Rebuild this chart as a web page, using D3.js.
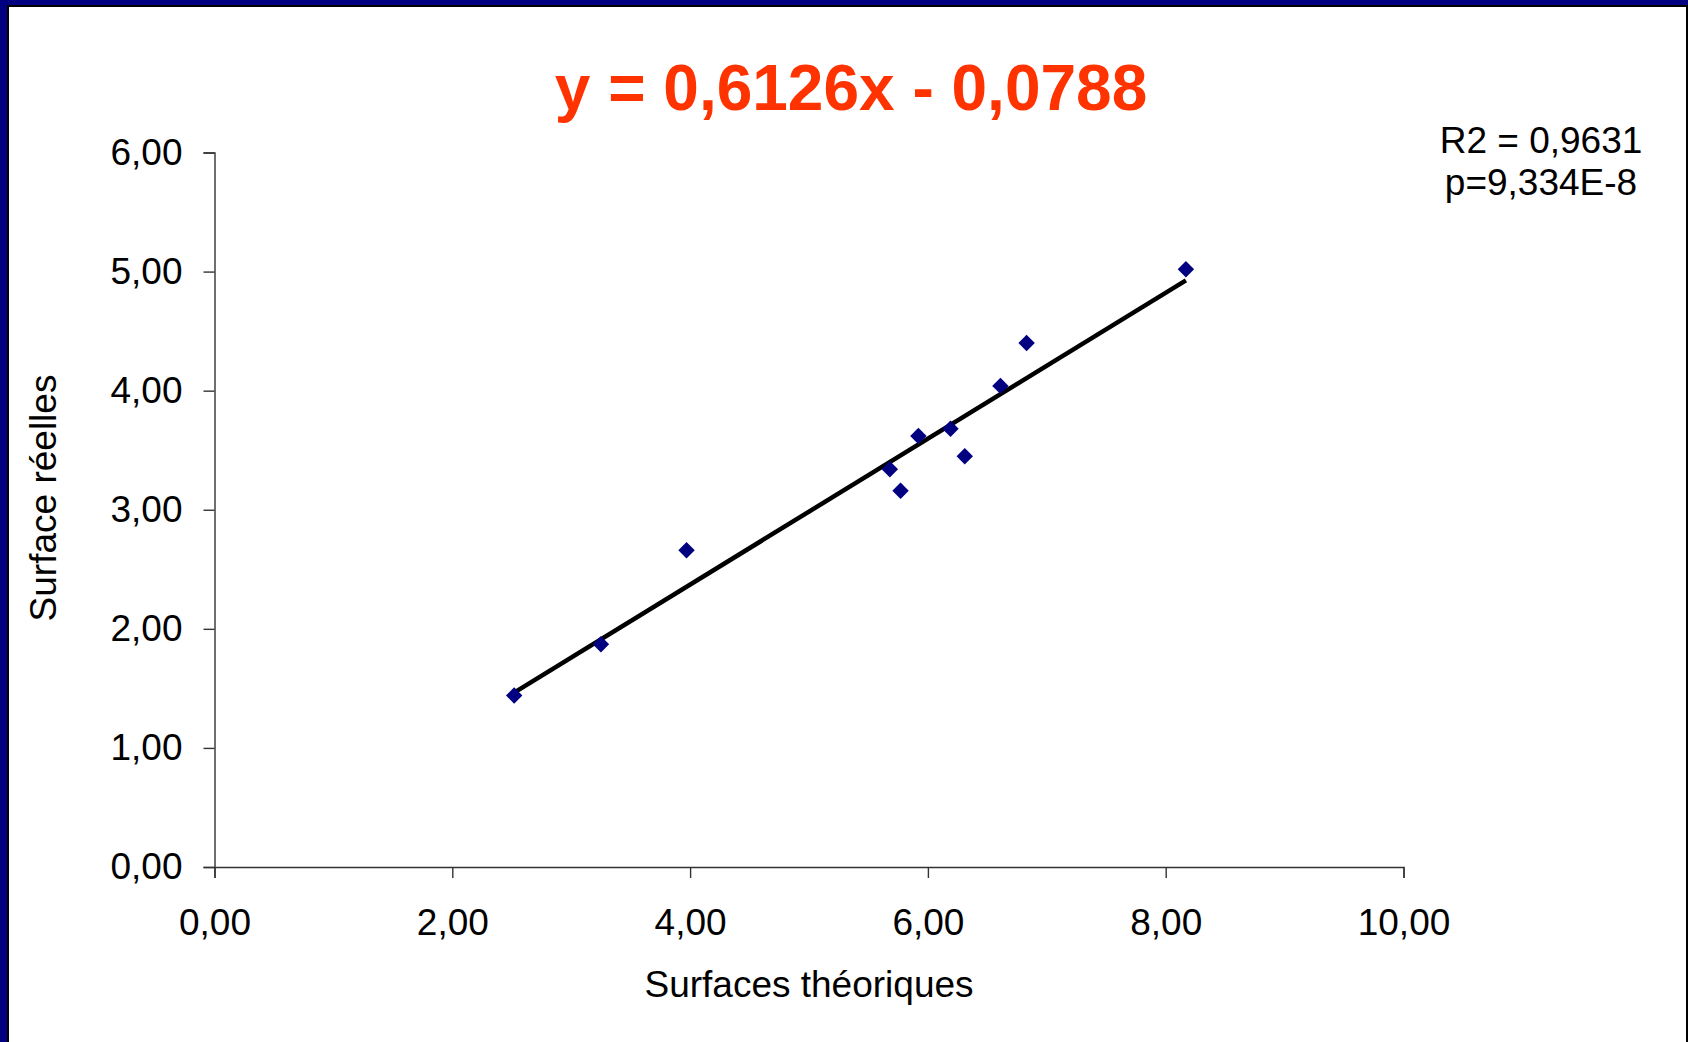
<!DOCTYPE html>
<html>
<head>
<meta charset="utf-8">
<script src="https://cdn.jsdelivr.net/npm/d3@7"></script>
<style>
  html, body { margin: 0; padding: 0; background: #000080; }
  svg { display: block; }
  text { font-family: "Liberation Sans", Arial, Helvetica, sans-serif; }
</style>
</head>
<body>
<svg id="chart" width="1688" height="1042"></svg>
<script>
// ---- data ----
const xValues = [2.52, 3.25, 3.97, 5.68, 5.77, 5.92, 6.19, 6.31, 6.61, 6.83, 8.17];
const yValues = [1.44, 1.87, 2.66, 3.34, 3.16, 3.62, 3.68, 3.45, 4.04, 4.40, 5.02];
const xTicks = [0, 2, 4, 6, 8, 10];
const yTicks = [0, 1, 2, 3, 4, 5, 6];
const slope = 0.6126;
const intercept = -0.0788;
const titleText = "y = 0,6126x - 0,0788";
const statsLines = ["R2 = 0,9631", "p=9,334E-8"];
const xTitle = "Surfaces théoriques";
const yTitle = "Surface réelles";

const svg = d3.select("#chart");
const W = 1688, H = 1042;

// frame
svg.append("rect").attr("x", 0).attr("y", 0).attr("width", W).attr("height", H).attr("fill", "#000080");
svg.append("rect").attr("x", 8).attr("y", 6).attr("width", 1679).attr("height", 1100)
  .attr("fill", "#ffffff").attr("stroke", "#000000").attr("stroke-width", 2);

const x = d3.scaleLinear().domain([0, 10]).range([214.5, 1403.5]);
const y = d3.scaleLinear().domain([0, 6]).range([867, 152.5]);

const fr = d3.formatLocale({decimal: ",", thousands: " ", grouping: [3], currency: ["", " €"]});
const fmt = fr.format(".2f");

// axes
const gx = svg.append("g").attr("transform", `translate(0,${y(0)})`)
  .call(d3.axisBottom(x).tickValues(xTicks).tickFormat(fmt).tickSize(11).tickPadding(31));
const gy = svg.append("g").attr("transform", `translate(${x(0)},0)`)
  .call(d3.axisLeft(y).tickValues(yTicks).tickFormat(fmt).tickSize(11).tickPadding(21));
[gx, gy].forEach(g => {
  g.selectAll("path.domain").attr("stroke", "#333").attr("stroke-width", 1.4);
  g.selectAll(".tick line").attr("stroke", "#333").attr("stroke-width", 1.4);
  g.selectAll(".tick text").attr("font-size", 37).attr("fill", "#000")
    .attr("font-family", "'Liberation Sans', Arial, sans-serif");
});

// trend line
const xMin = d3.min(xValues), xMax = d3.max(xValues);
svg.append("line")
  .attr("x1", x(xMin)).attr("y1", y(slope * xMin + intercept))
  .attr("x2", x(xMax)).attr("y2", y(slope * xMax + intercept))
  .attr("stroke", "#000").attr("stroke-width", 4.5);

// points
const pts = xValues.map((v, i) => [v, yValues[i]]);
svg.append("g").selectAll("path").data(pts).enter().append("path")
  .attr("d", d3.symbol().type(d3.symbolSquare).size(135))
  .attr("transform", d => `translate(${x(d[0])},${y(d[1])}) rotate(45)`)
  .attr("fill", "#000080");

// title
svg.append("text").attr("x", 851).attr("y", 110).attr("text-anchor", "middle")
  .attr("font-size", 64).attr("font-weight", "bold").attr("fill", "#ff3300").text(titleText);

// stats
svg.append("g").selectAll("text").data(statsLines).enter().append("text")
  .attr("x", 1541).attr("y", (d, i) => 153 + i * 42).attr("text-anchor", "middle")
  .attr("font-size", 37).attr("fill", "#000").text(d => d);

// axis titles
svg.append("text").attr("x", 809).attr("y", 997).attr("text-anchor", "middle")
  .attr("font-size", 37).attr("fill", "#000").text(xTitle);
svg.append("text").attr("transform", "translate(56,498) rotate(-90)").attr("text-anchor", "middle")
  .attr("font-size", 37).attr("fill", "#000").text(yTitle);
</script>
</body>
</html>
